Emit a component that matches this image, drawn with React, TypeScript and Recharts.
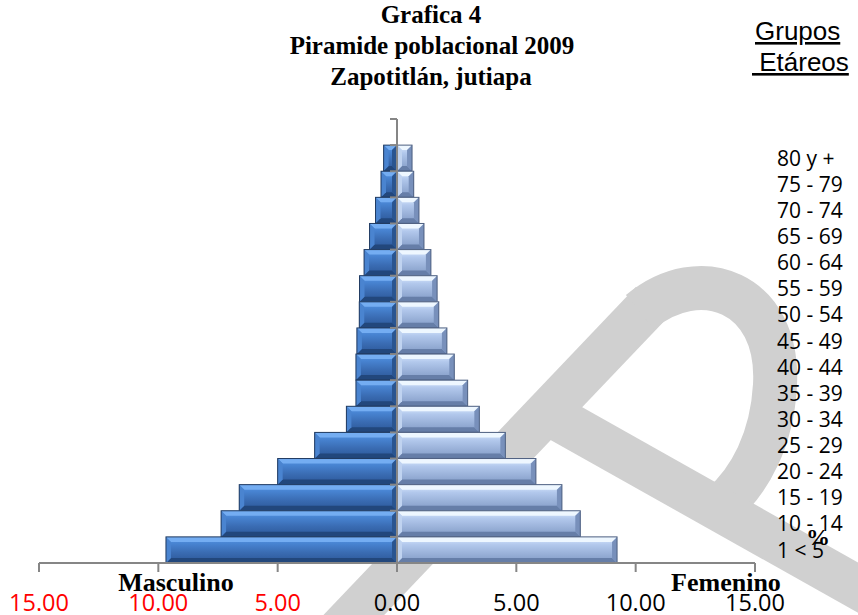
import { BarChart, Bar, XAxis, YAxis, ReferenceLine } from "recharts";

// grupos etáreos, de arriba hacia abajo (la primera fila va vacía, como en la gráfica original)
const grupos = [
  "",
  "80 y +",
  "75 - 79",
  "70 - 74",
  "65 - 69",
  "60 - 64",
  "55 - 59",
  "50 - 54",
  "45 - 49",
  "40 - 44",
  "35 - 39",
  "30 - 34",
  "25 - 29",
  "20 - 24",
  "15 - 19",
  "10 - 14",
  "1 < 5",
];

// porcentajes
const masculino = [0, 0.56, 0.67, 0.9, 1.15, 1.38, 1.57, 1.58, 1.68, 1.72, 1.72, 2.12, 3.45, 5.0, 6.61, 7.37, 9.68];
const femenino = [0, 0.63, 0.7, 0.92, 1.13, 1.42, 1.68, 1.75, 2.09, 2.4, 2.96, 3.45, 4.54, 5.82, 6.91, 7.68, 9.22];

const xTicks = [-15, -10, -5, 0, 5, 10, 15];

const data = grupos.map((g, i) => ({
  grupo: g,
  masculino: -masculino[i],
  femenino: femenino[i],
}));

type Palette = { face: string; top: string; bottom: string; left: string; right: string; stroke: string };

const MALE: Palette = {
  face: "url(#gradM)",
  top: "#74adf2",
  bottom: "#22477c",
  left: "#4a84d0",
  right: "#2a5590",
  stroke: "#203a60",
};

const FEMALE: Palette = {
  face: "url(#gradF)",
  top: "#eef7ff",
  bottom: "#667ea8",
  left: "#c0d3f0",
  right: "#7890bb",
  stroke: "#4d5f80",
};

const AXIS_GRAY = "#868686";

function bevelShape(pal: Palette, withTicks: boolean) {
  return (props: any) => {
    let { x, y, width, height } = props;
    if (width < 0) {
      x += width;
      width = -width;
    }
    const zero = props.x;
    const b = Math.min(5, width / 2, height / 2);
    const x2 = x + width;
    const y2 = y + height;
    return (
      <g>
        {width > 0 && (
          <>
            <rect x={x} y={y} width={width} height={height} fill={pal.face} />
            <polygon points={`${x},${y} ${x2},${y} ${x2 - b},${y + b} ${x + b},${y + b}`} fill={pal.top} />
            <polygon points={`${x},${y2} ${x2},${y2} ${x2 - b},${y2 - b} ${x + b},${y2 - b}`} fill={pal.bottom} />
            <polygon points={`${x},${y} ${x + b},${y + b} ${x + b},${y2 - b} ${x},${y2}`} fill={pal.left} />
            <polygon points={`${x2},${y} ${x2 - b},${y + b} ${x2 - b},${y2 - b} ${x2},${y2}`} fill={pal.right} />
            <rect x={x} y={y} width={width} height={height} fill="none" stroke={pal.stroke} strokeWidth={1} />
          </>
        )}
        {withTicks && <line x1={zero - 7} y1={y} x2={zero} y2={y} stroke={AXIS_GRAY} strokeWidth={2} />}
      </g>
    );
  };
}

const XTick = (props: any) => {
  const { x, y, payload } = props;
  const v = payload.value as number;
  return (
    <text
      x={x}
      y={y + 37}
      textAnchor="middle"
      fill={v < 0 ? "#ff0000" : "#000000"}
      fontFamily="'Open Sans', sans-serif"
      fontSize={23.5}
    >
      {Math.abs(v).toFixed(2)}
    </text>
  );
};

const YTick = (props: any) => {
  const { x, y, payload } = props;
  return (
    <text x={x} y={y} dy="0.36em" textAnchor="start" fill="#000" fontFamily="'Open Sans', sans-serif" fontSize={21}>
      {payload.value}
    </text>
  );
};

export default function App() {
  return (
    <div
      style={{
        position: "absolute",
        left: 0,
        top: 0,
        width: 858,
        height: 615,
        background: "#fff",
        overflow: "hidden",
      }}
    >
      {/* marca de agua */}
      <svg width={858} height={615} style={{ position: "absolute", left: 0, top: 0 }}>
        <g stroke="#d0d0d0" fill="none" strokeWidth={44}>
          <path d="M 330 640 L 652 302" />
          <path d="M 640 312 C 700 262 780 292 775 385 C 772 440 750 480 722 505" />
          <path d="M 560 420 L 880 600" />
        </g>
      </svg>

      <div style={{ position: "absolute", left: 0, top: 0 }}>
        <BarChart
          width={858}
          height={615}
          data={data}
          layout="vertical"
          stackOffset="sign"
          barCategoryGap={0}
          barGap={0}
          margin={{ top: 119, right: 0, bottom: 0, left: 39 }}
        >
          <defs>
            <linearGradient id="gradM" x1="0" y1="0" x2="0" y2="1">
              <stop offset="0%" stopColor="#5b98e4" />
              <stop offset="25%" stopColor="#4884d2" />
              <stop offset="60%" stopColor="#3a6cb3" />
              <stop offset="100%" stopColor="#2b5696" />
            </linearGradient>
            <linearGradient id="gradF" x1="0" y1="0" x2="0" y2="1">
              <stop offset="0%" stopColor="#dcebff" />
              <stop offset="30%" stopColor="#b2c8ec" />
              <stop offset="100%" stopColor="#8099c4" />
            </linearGradient>
          </defs>
          <XAxis
            type="number"
            domain={[-15, 15]}
            ticks={xTicks}
            height={52}
            axisLine={{ stroke: AXIS_GRAY, strokeWidth: 2 }}
            tickLine={{ stroke: AXIS_GRAY, strokeWidth: 2 }}
            tickSize={9}
            tick={<XTick />}
            interval={0}
          />
          <YAxis
            type="category"
            dataKey="grupo"
            orientation="right"
            width={103}
            axisLine={false}
            tickLine={false}
            tickSize={0}
            tickMargin={22}
            tick={<YTick />}
            interval={0}
          />
          <Bar dataKey="masculino" stackId="p" isAnimationActive={false} shape={bevelShape(MALE, false)} />
          <Bar dataKey="femenino" stackId="p" isAnimationActive={false} shape={bevelShape(FEMALE, true)} />
          <ReferenceLine x={0} stroke={AXIS_GRAY} strokeWidth={2} />
        </BarChart>
      </div>

      {/* textos */}
      <svg width={858} height={615} style={{ position: "absolute", left: 0, top: 0, pointerEvents: "none" }}>
        <g fontFamily="'Liberation Serif', 'Times New Roman', serif" fontWeight="bold" fontSize={25} textAnchor="middle">
          <text x={431} y={23}>Grafica 4</text>
          <text x={432} y={54}>Piramide poblacional 2009</text>
          <text x={431} y={85}>Zapotitlán, jutiapa</text>
        </g>
        <g fontFamily="'Liberation Sans', Arial, sans-serif" fontSize={26} style={{ textDecoration: "underline" }}>
          <text x={755} y={40}>Grupos</text>
          <text x={752} y={71} xmlSpace="preserve"> Etáreos</text>
        </g>
        <g fontFamily="'Liberation Serif', 'Times New Roman', serif" fontWeight="bold" fontSize={26} textAnchor="middle">
          <text x={176} y={591}>Masculino</text>
          <text x={726} y={591}>Femenino</text>
          <text x={818} y={545} fontSize={24}>%</text>
        </g>
      </svg>
    </div>
  );
}
